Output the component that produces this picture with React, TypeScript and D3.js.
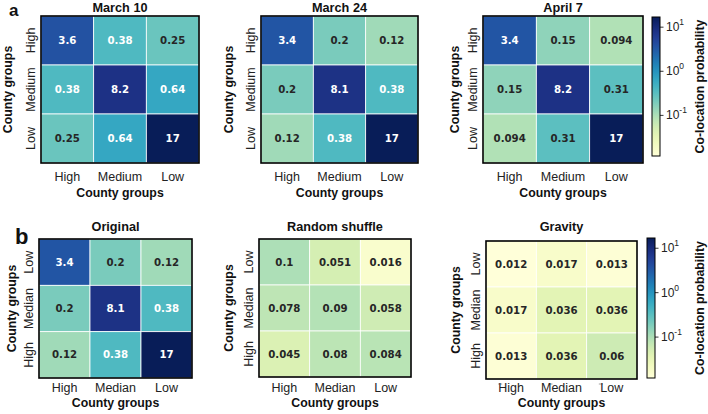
import React from "react";
import * as d3 from "d3";

const groupsTop = ["High", "Medium", "Low"];
const groupsBottomX = ["High", "Median", "Low"];
const groupsBottomY = ["Low", "Median", "High"];

const march10 = [
  [3.6, 0.38, 0.25],
  [0.38, 8.2, 0.64],
  [0.25, 0.64, 17],
];
const march24 = [
  [3.4, 0.2, 0.12],
  [0.2, 8.1, 0.38],
  [0.12, 0.38, 17],
];
const april7 = [
  [3.4, 0.15, 0.094],
  [0.15, 8.2, 0.31],
  [0.094, 0.31, 17],
];
const original = [
  [3.4, 0.2, 0.12],
  [0.2, 8.1, 0.38],
  [0.12, 0.38, 17],
];
const randomShuffle = [
  [0.1, 0.051, 0.016],
  [0.078, 0.09, 0.058],
  [0.045, 0.08, 0.084],
];
const gravity = [
  [0.012, 0.017, 0.013],
  [0.017, 0.036, 0.036],
  [0.013, 0.036, 0.06],
];
const colorDomain = [0.012, 17];
const cbTicks = [10, 1, 0.1];
const cbTickExp = ["1", "0", "-1"];

const SANS = "'Liberation Sans', Arial, Helvetica, sans-serif";
const ANNOT = "'DejaVu Sans', sans-serif";

const color = d3
  .scaleSequentialLog(d3.interpolateYlGnBu)
  .domain(colorDomain)
  .clamp(true);

function lum(c: string) {
  const rgb = d3.rgb(c);
  const f = (v: number) => {
    const s = v / 255;
    return s <= 0.03928 ? s / 12.92 : Math.pow((s + 0.055) / 1.055, 2.4);
  };
  return 0.2126 * f(rgb.r) + 0.7152 * f(rgb.g) + 0.0722 * f(rgb.b);
}

type HMProps = {
  x: number;
  y: number;
  w: number;
  h: number;
  data: number[][];
  title: string;
  xLabels: string[];
  yLabels: string[];
  yTitleX: number;
  xTickY: number;
  xTitleY: number;
  titleY: number;
  xTickMarks?: boolean;
};

function Heatmap(p: HMProps) {
  const xs = d3.scaleBand<number>().domain([0, 1, 2]).range([p.x, p.x + p.w]);
  const ys = d3.scaleBand<number>().domain([0, 1, 2]).range([p.y, p.y + p.h]);
  const cx = p.x + p.w / 2;
  const cy = p.y + p.h / 2;
  const ytx = p.x - 10;
  return (
    <g>
      {p.data.map((row, i) =>
        row.map((v, j) => (
          <rect
            key={`c${i}-${j}`}
            x={xs(j)}
            y={ys(i)}
            width={xs.bandwidth()}
            height={ys.bandwidth()}
            fill={color(v)}
            stroke="#ffffff"
            strokeWidth={0.8}
          />
        ))
      )}
      {p.data.map((row, i) =>
        row.map((v, j) => {
          const c = color(v);
          const tc = lum(c) > 0.408 ? "#262626" : "#ffffff";
          return (
            <text
              key={`t${i}-${j}`}
              x={(xs(j) as number) + xs.bandwidth() / 2}
              y={(ys(i) as number) + ys.bandwidth() / 2}
              textAnchor="middle"
              dominantBaseline="central"
              fontFamily={ANNOT}
              fontWeight="bold"
              fontSize={10.2}
              fill={tc}
            >
              {String(v)}
            </text>
          );
        })
      )}
      <rect x={p.x} y={p.y} width={p.w} height={p.h} fill="none" stroke="#000" strokeWidth={1.6} />
      <text x={cx} y={p.titleY} textAnchor="middle" fontFamily={SANS} fontWeight="bold" fontSize={12.7} fill="#111">
        {p.title}
      </text>
      {p.xLabels.map((l, j) => (
        <g key={`xl${j}`}>
          {p.xTickMarks && (
            <line
              x1={(xs(j) as number) + xs.bandwidth() / 2 - 13}
              x2={(xs(j) as number) + xs.bandwidth() / 2 - 9}
              y1={p.y + p.h + 5}
              y2={p.y + p.h + 5}
              stroke="#888"
              strokeWidth={0.8}
            />
          )}
          <text
            x={(xs(j) as number) + xs.bandwidth() / 2}
            y={p.xTickY}
            textAnchor="middle"
            dominantBaseline="central"
            fontFamily={SANS}
            fontSize={12.5}
            fill="#222"
          >
            {l}
          </text>
        </g>
      ))}
      {p.yLabels.map((l, i) => {
        const yy = (ys(i) as number) + ys.bandwidth() / 2;
        return (
          <text
            key={`yl${i}`}
            transform={`translate(${ytx},${yy}) rotate(-90)`}
            textAnchor="middle"
            dominantBaseline="central"
            fontFamily={SANS}
            fontSize={12.5}
            fill="#222"
          >
            {l}
          </text>
        );
      })}
      <text x={cx} y={p.xTitleY} textAnchor="middle" dominantBaseline="central" fontFamily={SANS} fontWeight="bold" fontSize={12.3} fill="#111">
        County groups
      </text>
      <text
        transform={`translate(${p.yTitleX},${cy}) rotate(-90)`}
        textAnchor="middle"
        dominantBaseline="central"
        fontFamily={SANS}
        fontWeight="bold"
        fontSize={12.3}
        fill="#111"
      >
        County groups
      </text>
    </g>
  );
}

function Colorbar({ x, y, w, h, id, labelX }: { x: number; y: number; w: number; h: number; id: string; labelX: number }) {
  const s = d3.scaleLog().domain(colorDomain).range([y + h, y]);
  const stops = d3.range(0, 1.0001, 0.05);
  return (
    <g>
      <defs>
        <linearGradient id={id} x1="0" y1="1" x2="0" y2="0">
          {stops.map((t) => (
            <stop key={t} offset={t} stopColor={d3.interpolateYlGnBu(t)} />
          ))}
        </linearGradient>
      </defs>
      <rect x={x} y={y} width={w} height={h} fill={`url(#${id})`} stroke="#000" strokeWidth={1} />
      {cbTicks.map((t, i) => {
        const yy = s(t);
        return (
          <g key={t}>
            <line x1={x + w} x2={x + w + 3.5} y1={yy} y2={yy} stroke="#000" strokeWidth={0.8} />
            <text x={x + w + 6} y={yy} dominantBaseline="central" fontFamily={SANS} fontSize={12} fill="#222">
              10
              <tspan dy={-5} fontSize={8.5}>
                {cbTickExp[i]}
              </tspan>
            </text>
          </g>
        );
      })}
      <text
        transform={`translate(${labelX},${y + h / 2}) rotate(-90)`}
        textAnchor="middle"
        dominantBaseline="central"
        fontFamily={SANS}
        fontWeight="bold"
        fontSize={12.3}
        fill="#111"
      >
        Co-location probability
      </text>
    </g>
  );
}

export default function App() {
  const topY = 16;
  const topH = 147;
  const botY = 239;
  const botH = 139;
  return (
    <svg width={708} height={414} style={{ position: "absolute", left: 0, top: 0, background: "#fff" }}>
      <rect x={0} y={0} width={708} height={414} fill="#fff" />
      <text x={9} y={15.5} fontFamily={SANS} fontWeight="bold" fontSize={17} fill="#111">
        a
      </text>
      <text x={15} y={244} fontFamily={SANS} fontWeight="bold" fontSize={22} fill="#111">
        b
      </text>
      <Heatmap x={41} y={topY} w={158} h={topH} data={march10} title="March 10" xLabels={groupsTop} yLabels={groupsTop}
        yTitleX={8} xTickY={177} xTitleY={193} titleY={12} />
      <Heatmap x={261} y={topY} w={157} h={topH} data={march24} title="March 24" xLabels={groupsTop} yLabels={groupsTop}
        yTitleX={229} xTickY={177} xTitleY={193} titleY={12} />
      <Heatmap x={483} y={topY} w={160} h={topH} data={april7} title="April 7" xLabels={groupsTop} yLabels={groupsTop}
        yTitleX={455} xTickY={177} xTitleY={193} titleY={12} />
      <Colorbar x={652} y={17} w={8} h={139} id="cbTop" labelX={700} />

      <Heatmap x={39} y={botY} w={153} h={botH} data={original} title="Original" xLabels={groupsBottomX} yLabels={groupsBottomY}
        yTitleX={12} xTickY={388} xTitleY={403} titleY={231} />
      <Heatmap x={259} y={botY} w={152} h={botH - 1} data={randomShuffle} title="Random shuffle" xLabels={groupsBottomX} yLabels={groupsBottomY}
        yTitleX={229} xTickY={388} xTitleY={403} titleY={231} />
      <Heatmap x={486} y={241} w={151} h={138} data={gravity} title="Gravity" xLabels={groupsBottomX} yLabels={groupsBottomY}
        yTitleX={456} xTickY={388} xTitleY={403} titleY={231} xTickMarks />
      <Colorbar x={647} y={238} w={8} h={140} id="cbBot" labelX={700} />
    </svg>
  );
}
